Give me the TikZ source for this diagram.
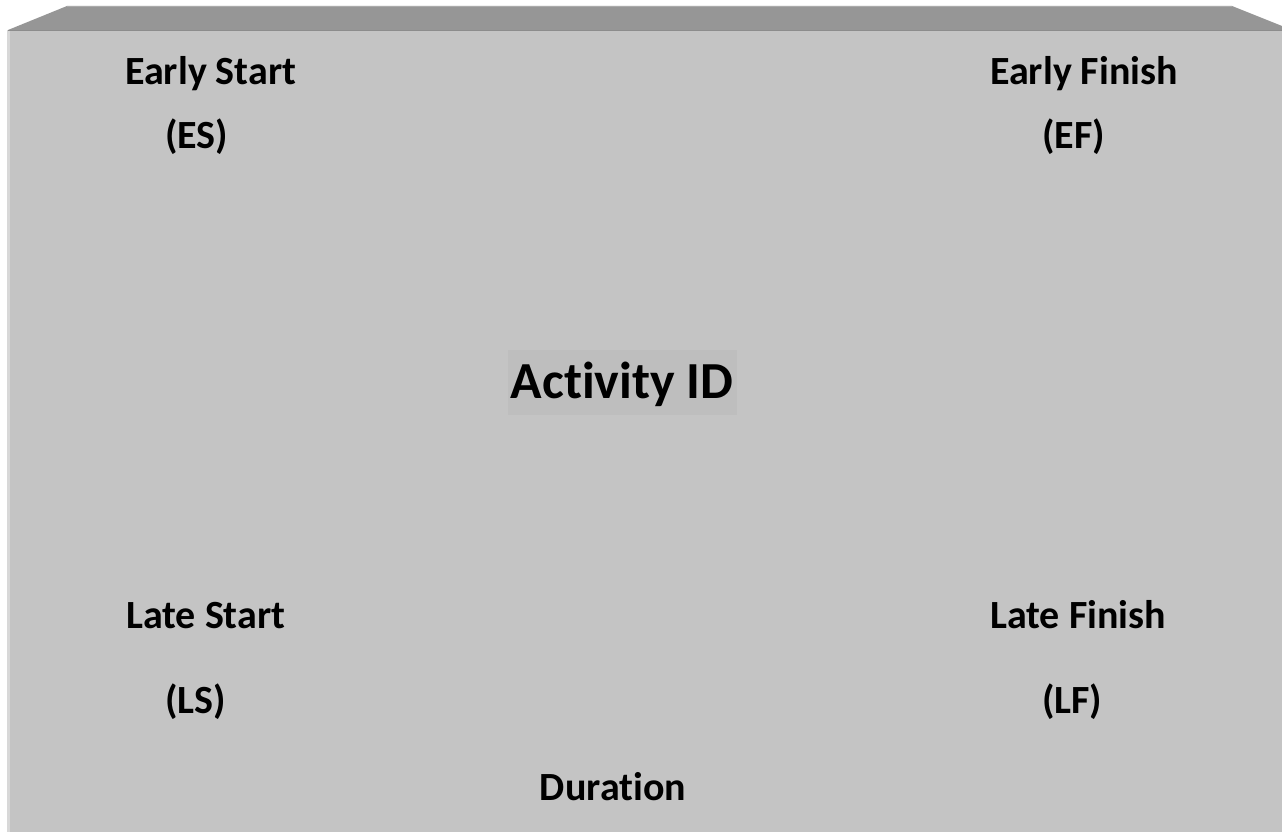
\documentclass[tikz,border=0pt]{standalone}
\usepackage{fontspec}
\setmainfont{Carlito}[RawFeature={-liga;-clig;-calt;-dlig}]
\definecolor{frontface}{RGB}{196,196,196}
\definecolor{topface}{RGB}{150,150,150}
\definecolor{topedge}{RGB}{170,170,170}
\definecolor{sidestrip}{RGB}{216,216,216}
\definecolor{idbg}{RGB}{190,190,190}
\tikzset{
  lbl/.style={inner sep=0pt, font=\bfseries\fontsize{40}{48}\selectfont, anchor=base west},
  bigl/.style={inner sep=0pt, font=\bfseries\fontsize{52}{62}\selectfont, anchor=base},
}
\begin{document}
\begin{tikzpicture}[x=1pt,y=-1pt]
\useasboundingbox (0,0) rectangle (1282,832);
\fill[white] (0,0) rectangle (1282,832);
% front face
\fill[frontface] (8,30) rectangle (1282,832);
\fill[sidestrip] (7,30) rectangle (10,832);
% top face
\fill[topface] (8,30) -- (67,6) -- (1232,6) -- (1282,26) -- (1282,30) -- cycle;
\draw[topedge, line width=0.8pt] (67,6.4) -- (1232,6.4);
\draw[black!45, line width=0.8pt] (8,30) -- (1282,30);
% Activity ID background
\fill[idbg] (508,350) rectangle (737,415);
\node[lbl] (es) at (125,85) {Early Start};
\node[lbl] (esa) at (165,149) {(ES)};
\node[lbl] (ef) at (990,85) {Early Finish};
\node[lbl] (efa) at (1042,149) {(EF)};
\node[bigl] (id) at (622,398) {Activity ID};
\node[lbl] (ls) at (126,628) {Late Start};
\node[lbl] (lsa) at (165,713) {(LS)};
\node[lbl] (lf) at (990,628) {Late Finish};
\node[lbl] (lfa) at (1042,713) {(LF)};
\node[lbl, anchor=base] (dur) at (613,800) {Duration};
\end{tikzpicture}
\end{document}
